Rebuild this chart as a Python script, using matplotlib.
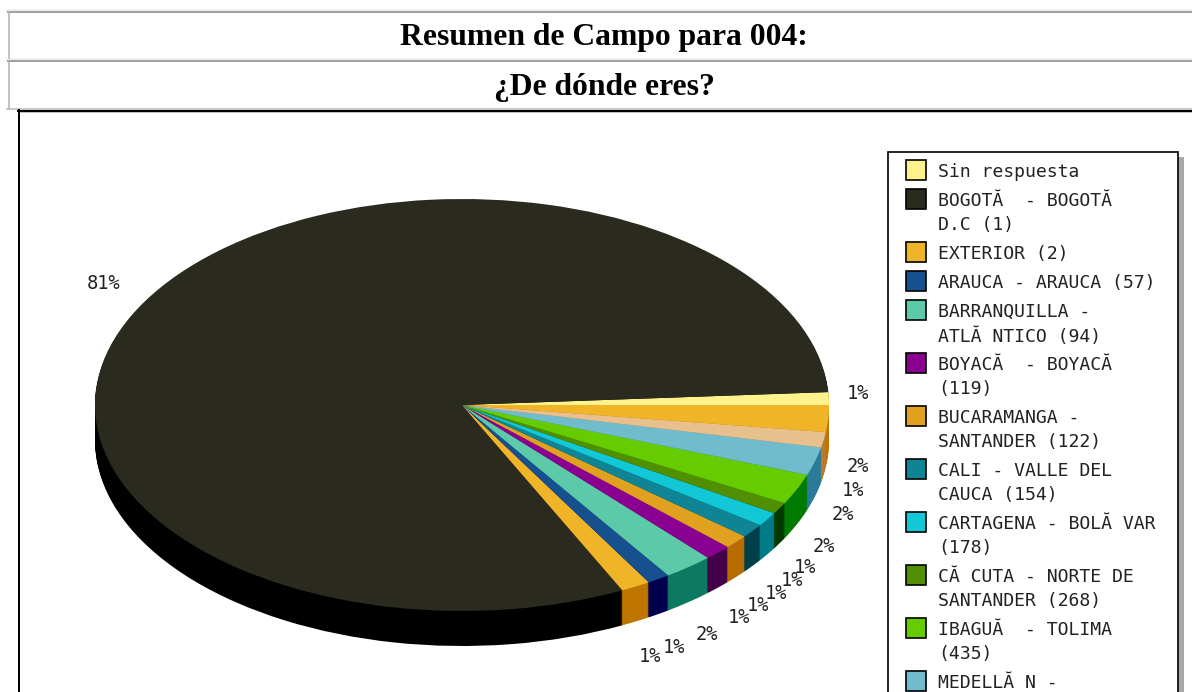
import numpy as np
import matplotlib
matplotlib.use('Agg')
import matplotlib.pyplot as plt
from matplotlib.patches import Rectangle

# Slice shares, counter-clockwise from the east side
values = [1.0, 81.2, 1.3, 1.0, 2.2, 1.2, 1.1, 1.1, 1.1, 0.9, 2.4, 2.2, 1.2, 2.1]
pct_labels = ['1%', '81%', '1%', '1%', '2%', '1%', '1%', '1%', '1%', '1%', '2%', '2%', '1%', '2%']
legend_labels = [
    'Sin respuesta',
    'BOGOTĂ  - BOGOTĂ\nD.C (1)',
    'EXTERIOR (2)',
    'ARAUCA - ARAUCA (57)',
    'BARRANQUILLA -\nATLĂ NTICO (94)',
    'BOYACĂ  - BOYACĂ\n(119)',
    'BUCARAMANGA -\nSANTANDER (122)',
    'CALI - VALLE DEL\nCAUCA (154)',
    'CARTAGENA - BOLĂ VAR\n(178)',
    'CĂ CUTA - NORTE DE\nSANTANDER (268)',
    'IBAGUĂ  - TOLIMA\n(435)',
    'MEDELLĂ N -',
]
top_colors = ['#FFF28C', '#2B2A1F', '#F0B428', '#17508F', '#5CC9A8', '#8A0090', '#E0A11F',
              '#0E8494', '#12C8D6', '#4F8F00', '#66CC00', '#70BCCC', '#E8C08E', '#F0B428']
side_colors = ['#B88A00', '#000000', '#BF7600', '#00004F', '#0B7A60', '#45004A', '#B86C00',
               '#00404A', '#007C88', '#003A00', '#007A00', '#2A7A9A', '#B87A30', '#BF7600']

W, H = 1192, 692
CX, CY, RX, RY = 462, 405, 367, 206
DEPTH = 35

fig = plt.figure(figsize=(W / 100, H / 100), dpi=100)


def fx(px):
    return px / W


def fy(py):
    return 1 - py / H


def hline(py, x0, x1, color, lw=2):
    fig.add_artist(plt.Line2D([fx(x0), fx(x1)], [fy(py), fy(py)], color=color, lw=lw * 0.72))


def vline(px, y0, y1, color, lw=2):
    fig.add_artist(plt.Line2D([fx(px), fx(px)], [fy(y0), fy(y1)], color=color, lw=lw * 0.72))


# Table rows around the titles
hline(10, 7, W, '#EEEEEE')
hline(12, 8, W, '#A0A0A0')
hline(59, 7, W, '#EEEEEE')
hline(61, 8, W, '#A0A0A0')
hline(108.5, 7, W, '#C8C8C8', 2)
vline(9, 12, 58, '#B0B0B0', 1.5)
vline(9, 61, 108, '#B0B0B0', 1.5)

# Image frame
hline(110.5, 18, W, '#000000', 2)
hline(112, 19, W, '#C0C0C0', 1)
vline(19, 110, H, '#000000', 2)

fig.text(fx(604), fy(45), 'Resumen de Campo para 004:', family='Liberation Serif',
         weight='bold', fontsize=22.8, ha='center', va='baseline', color='black')
fig.text(fx(604), fy(94.5), '¿De dónde eres?', family='Liberation Serif',
         weight='bold', fontsize=22.8, ha='center', va='baseline', color='black')

ax = fig.add_axes([0, 0, 1, 1])

# Side wall: the same pie stacked downwards in the darker colours
for d in range(DEPTH, 0, -1):
    ax.pie(values, colors=side_colors, startangle=0, counterclock=True,
           center=(0, -d / RY), radius=1)

top, _ = ax.pie(values, colors=top_colors, startangle=0, counterclock=True, center=(0, 0), radius=1)

ax.set_aspect('auto')
ax.set_xlim(-CX / RX, (W - CX) / RX)
ax.set_ylim((CY - H) / RY, CY / RY)
ax.axis('off')

# Percent labels just outside the rim
edges = np.cumsum([0] + values) * 3.6
for i, lab in enumerate(pct_labels):
    mid = np.radians((edges[i] + edges[i + 1]) / 2)
    x = (1.08 if np.cos(mid) > 0 else 1.13) * np.cos(mid)
    y = 1.13 * np.sin(mid)
    if np.sin(mid) < 0:
        y -= 46 / RY
    else:
        y += 4 / RY
    ax.text(x, y, lab, family='DejaVu Sans Mono', fontsize=13.5, color='#222222',
            ha='center', va='center')

# Legend box runs off the bottom of the picture, so it is drawn by hand
fig.add_artist(Rectangle((fx(1178), 0), 6 / W, fy(157), transform=fig.transFigure,
                         facecolor='#A8A8A8', edgecolor='none'))
fig.add_artist(Rectangle((fx(888), -0.02), 290 / W, fy(152) + 0.02, transform=fig.transFigure,
                         facecolor='white', edgecolor='black', linewidth=1.2))
ypos = 172
for label, color in zip(legend_labels, top_colors):
    fig.add_artist(Rectangle((fx(906), fy(ypos + 8)), 20 / W, 20 / H, transform=fig.transFigure,
                             facecolor=color, edgecolor='black', linewidth=1.2))
    fig.text(fx(938), fy(ypos - 9), label, family='DejaVu Sans Mono', fontsize=13.1,
             color='#222222', ha='left', va='top', linespacing=1.42)
    ypos += 24 * label.count('\n') + 29

plt.savefig('out.png', dpi=100)
